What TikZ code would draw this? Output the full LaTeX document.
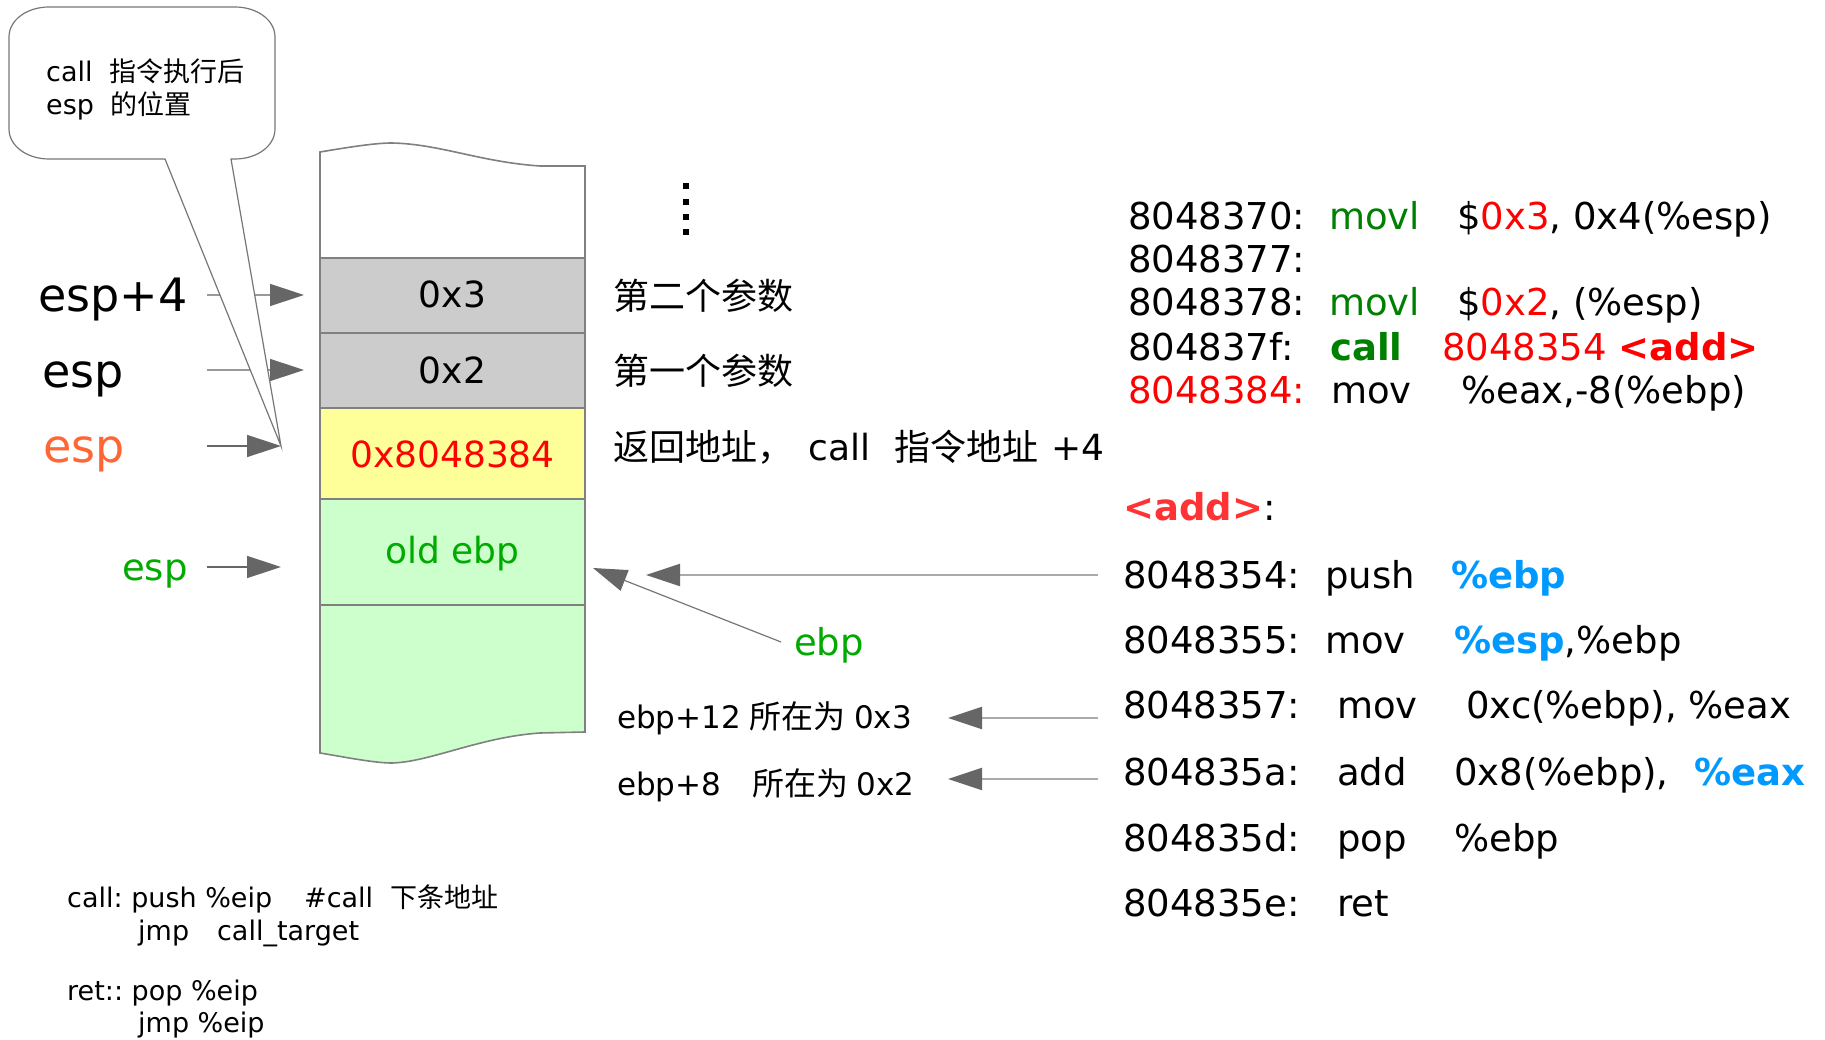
\documentclass[tikz,border=0pt]{standalone}
\usepackage{fontspec}
\setmainfont{DejaVu Sans}
\newfontfamily\cjk{Noto Sans CJK SC}
\usetikzlibrary{arrows.meta}
\newcommand\myfs[1]{\fontsize{#1}{#1}\selectfont}
\definecolor{cellgray}{HTML}{CCCCCC}
\definecolor{cellyellow}{HTML}{FFFF99}
\definecolor{cellgreen}{HTML}{CCFFCC}
\definecolor{edgegray}{HTML}{808080}
\definecolor{headgray}{HTML}{666666}
\definecolor{linegray}{HTML}{999999}
\definecolor{lightline}{HTML}{AAAAAA}
\definecolor{bubblegray}{HTML}{777777}
\definecolor{codegreen}{HTML}{008000}
\definecolor{brightgreen}{HTML}{00AA00}
\definecolor{codered}{HTML}{FF0000}
\definecolor{addred}{HTML}{FF3333}
\definecolor{regblue}{HTML}{0099FF}
\definecolor{espor}{HTML}{FF6633}
\tikzset{
  txt/.style={inner sep=0pt, anchor=base west},
  celltxt/.style={inner sep=0pt, anchor=base, font=\myfs{36}},
  code/.style={inner sep=0pt, anchor=base west, font=\myfs{37}},
  cellline/.style={draw=edgegray, line width=1.6pt},
  larrow/.style={draw=linegray, line width=1.5pt, -{Triangle[length=34pt,width=22pt,color=headgray]}},
  darrow/.style={draw=headgray, line width=1.5pt, -{Triangle[length=34pt,width=22pt,color=headgray]}},
  rarrow/.style={draw=lightline, line width=2pt, -{Triangle[length=34pt,width=22pt,color=headgray]}},
  diagarrow/.style={draw=bubblegray, line width=1.2pt, -{Triangle[length=34pt,width=22pt,color=headgray]}},
  bubble/.style={draw=bubblegray, line width=1.2pt, fill=white},
}
\begin{document}
\frenchspacing
\begin{tikzpicture}[x=1pt,y=-1pt]
\fill[white] (0,0) rectangle (1825,1040);
\useasboundingbox (0,0) rectangle (1825,1040);

% ---------- stack ----------
\filldraw[cellline, fill=white] (320,258) -- (320,152) .. controls (350,147) and (375,143) .. (392,143) .. controls (440,144) and (480,162) .. (540,166) -- (585,166) -- (585,258);
\filldraw[cellline, fill=cellgray] (320,258) rectangle (585,333);
\filldraw[cellline, fill=cellgray] (320,333) rectangle (585,408);
\filldraw[cellline, fill=cellyellow] (320,408) rectangle (585,499);
\filldraw[cellline, fill=cellgreen] (320,499) -- (320,753) .. controls (350,758) and (375,763) .. (392,763) .. controls (430,762) and (480,737) .. (540,733) -- (585,732) -- (585,499) -- cycle;
\draw[cellline] (320,605) -- (585,605);

\node[celltxt] (c3) at (452.5,308) {0x3};
\node[celltxt] (c2) at (452.5,383) {0x2};
\node[celltxt, text=codered] (cret) at (452.5,467) {0x8048384};
\node[celltxt, text=brightgreen] (cebp) at (452.5,563) {old ebp};

% dots
\foreach \yy in {186,202,217,232} \fill (683,\yy-3) rectangle (689,\yy+3);

% ---------- left labels ----------
\node[txt, font=\myfs{46}] (lesp4) at (38,312) {esp+4};
\node[txt, font=\myfs{46}] (lesp) at (42,387) {esp};
\node[txt, font=\myfs{46}, text=espor] (lespo) at (43,462) {esp};
\node[txt, font=\myfs{37}, text=brightgreen] (lespg) at (122,580) {esp};

\coordinate (s1) at (207,295); \coordinate (t1) at (304,295);
\coordinate (s2) at (207,370); \coordinate (t2) at (304,370);
\coordinate (s3) at (207,446); \coordinate (t3) at (281,446);
\coordinate (s4) at (207,567); \coordinate (t4) at (281,567);
\draw[larrow] (s1) -- (t1);
\draw[larrow] (s2) -- (t2);
\draw[darrow] (s3) -- (t3);
\draw[darrow] (s4) -- (t4);

% ---------- callout ----------
\filldraw[bubble] (165,159) -- (t3) -- (231,159) -- (235,159) .. controls (257,159) and (275,146) .. (275,129) -- (275,37) .. controls (275,20) and (257,7) .. (235,7) -- (49,7) .. controls (27,7) and (9,20) .. (9,37) -- (9,129) .. controls (9,146) and (27,159) .. (49,159) -- cycle;
\node[txt, font=\myfs{27}] (bub1) at (46,82) {call\hspace{17pt}{\cjk 指令执行后}};
\node[txt, font=\myfs{27}] (bub2) at (46,115) {esp\hspace{16pt}{\cjk 的位置}};

% ---------- middle texts ----------
\node[txt, font=\myfs{36}\cjk] (p2) at (613,310) {第二个参数};
\node[txt, font=\myfs{36}\cjk] (p1) at (613,384) {第一个参数};
\node[txt, font=\myfs{36}] (pret) at (613,460) {{\cjk 返回地址，}\hspace{15pt}call\hspace{24pt}{\cjk 指令地址}\hspace{13pt}+4};

\node[txt, font=\myfs{37}, text=brightgreen] (ebpl) at (794,655) {ebp};
\node[txt, font=\myfs{31}] (e12) at (617,728) {ebp+12\hspace{8pt}{\myfs{32}\cjk 所在为}\hspace{9pt}0x3};
\node[txt, font=\myfs{31}] (e8) at (617,795) {ebp+8\hspace{31pt}{\myfs{32}\cjk 所在为}\hspace{8pt}0x2};

% ---------- right arrows ----------
\coordinate (r0) at (1098,575); \coordinate (r0t) at (646,575);
\coordinate (d0) at (781,642); \coordinate (d0t) at (593,568);
\coordinate (r1) at (1098,718); \coordinate (r1t) at (948,718);
\coordinate (r2) at (1098,779); \coordinate (r2t) at (948,779);
\draw[rarrow] (r0) -- (r0t);
\draw[diagarrow] (d0) -- (d0t);
\draw[rarrow] (r1) -- (r1t);
\draw[rarrow] (r2) -- (r2t);

% ---------- top code ----------
\node[code] (a1) at (1128,230) {8048370:};
\node[code, text=codegreen] (m1) at (1329,230) {movl};
\node[code] (o1) at (1457,230) {\$\textcolor{codered}{0x3}, 0x4(\%esp)};
\node[code] (a2) at (1128,273) {8048377:};
\node[code] (a3) at (1128,316) {8048378:};
\node[code, text=codegreen] (m3) at (1329,316) {movl};
\node[code] (o3) at (1457,316) {\$\textcolor{codered}{0x2}, (\%esp)};
\node[code] (a4) at (1128,360) {804837f:};
\node[code, text=codegreen, font=\myfs{37}\bfseries] (m4) at (1330,360) {call};
\node[code, text=codered] (o4) at (1442,360) {8048354 \textbf{<add>}};
\node[code, text=codered] (a5) at (1128,403) {8048384:};
\node[code] (m5) at (1331,403) {mov};
\node[code] (o5) at (1461,403) {\%eax,-8(\%ebp)};

% ---------- add function ----------
\node[code] (addl) at (1123,520) {\textcolor{addred}{\bfseries <add>}:};
\node[code] (b1) at (1123,588) {8048354:};
\node[code] (n1) at (1325,588) {push};
\node[code, text=regblue, font=\myfs{37}\bfseries] (q1) at (1451,588) {\%ebp};
\node[code] (b2) at (1123,653) {8048355:};
\node[code] (n2) at (1325,653) {mov};
\node[code] (q2) at (1454,653) {\textcolor{regblue}{\bfseries\%esp},\%ebp};
\node[code] (b3) at (1123,718) {8048357:};
\node[code] (n3) at (1337,718) {mov};
\node[code] (q3) at (1466,718) {0xc(\%ebp), \%eax};
\node[code] (b4) at (1123,785) {804835a:};
\node[code] (n4) at (1337,785) {add};
\node[code] (q4) at (1454,785) {0x8(\%ebp),};
\node[code, text=regblue, font=\myfs{37}\bfseries] (q4b) at (1694,785) {\%eax};
\node[code] (b5) at (1123,851) {804835d:};
\node[code] (n5) at (1337,851) {pop};
\node[code] (q5) at (1454,851) {\%ebp};
\node[code] (b6) at (1123,916) {804835e:};
\node[code] (n6) at (1337,916) {ret};

% ---------- bottom-left ----------
\node[txt, font=\myfs{27}] (bl1) at (67,907) {call: push \%eip\hspace{32pt}\#call\hspace{17pt}{\cjk 下条地址}};
\node[txt, font=\myfs{27}] (bl2) at (138,940) {jmp\hspace{28pt}call\_target};
\node[txt, font=\myfs{27}] (bl3) at (67,1000) {ret:: pop \%eip};
\node[txt, font=\myfs{27}] (bl4) at (138,1032) {jmp \%eip};
\end{tikzpicture}
\end{document}
